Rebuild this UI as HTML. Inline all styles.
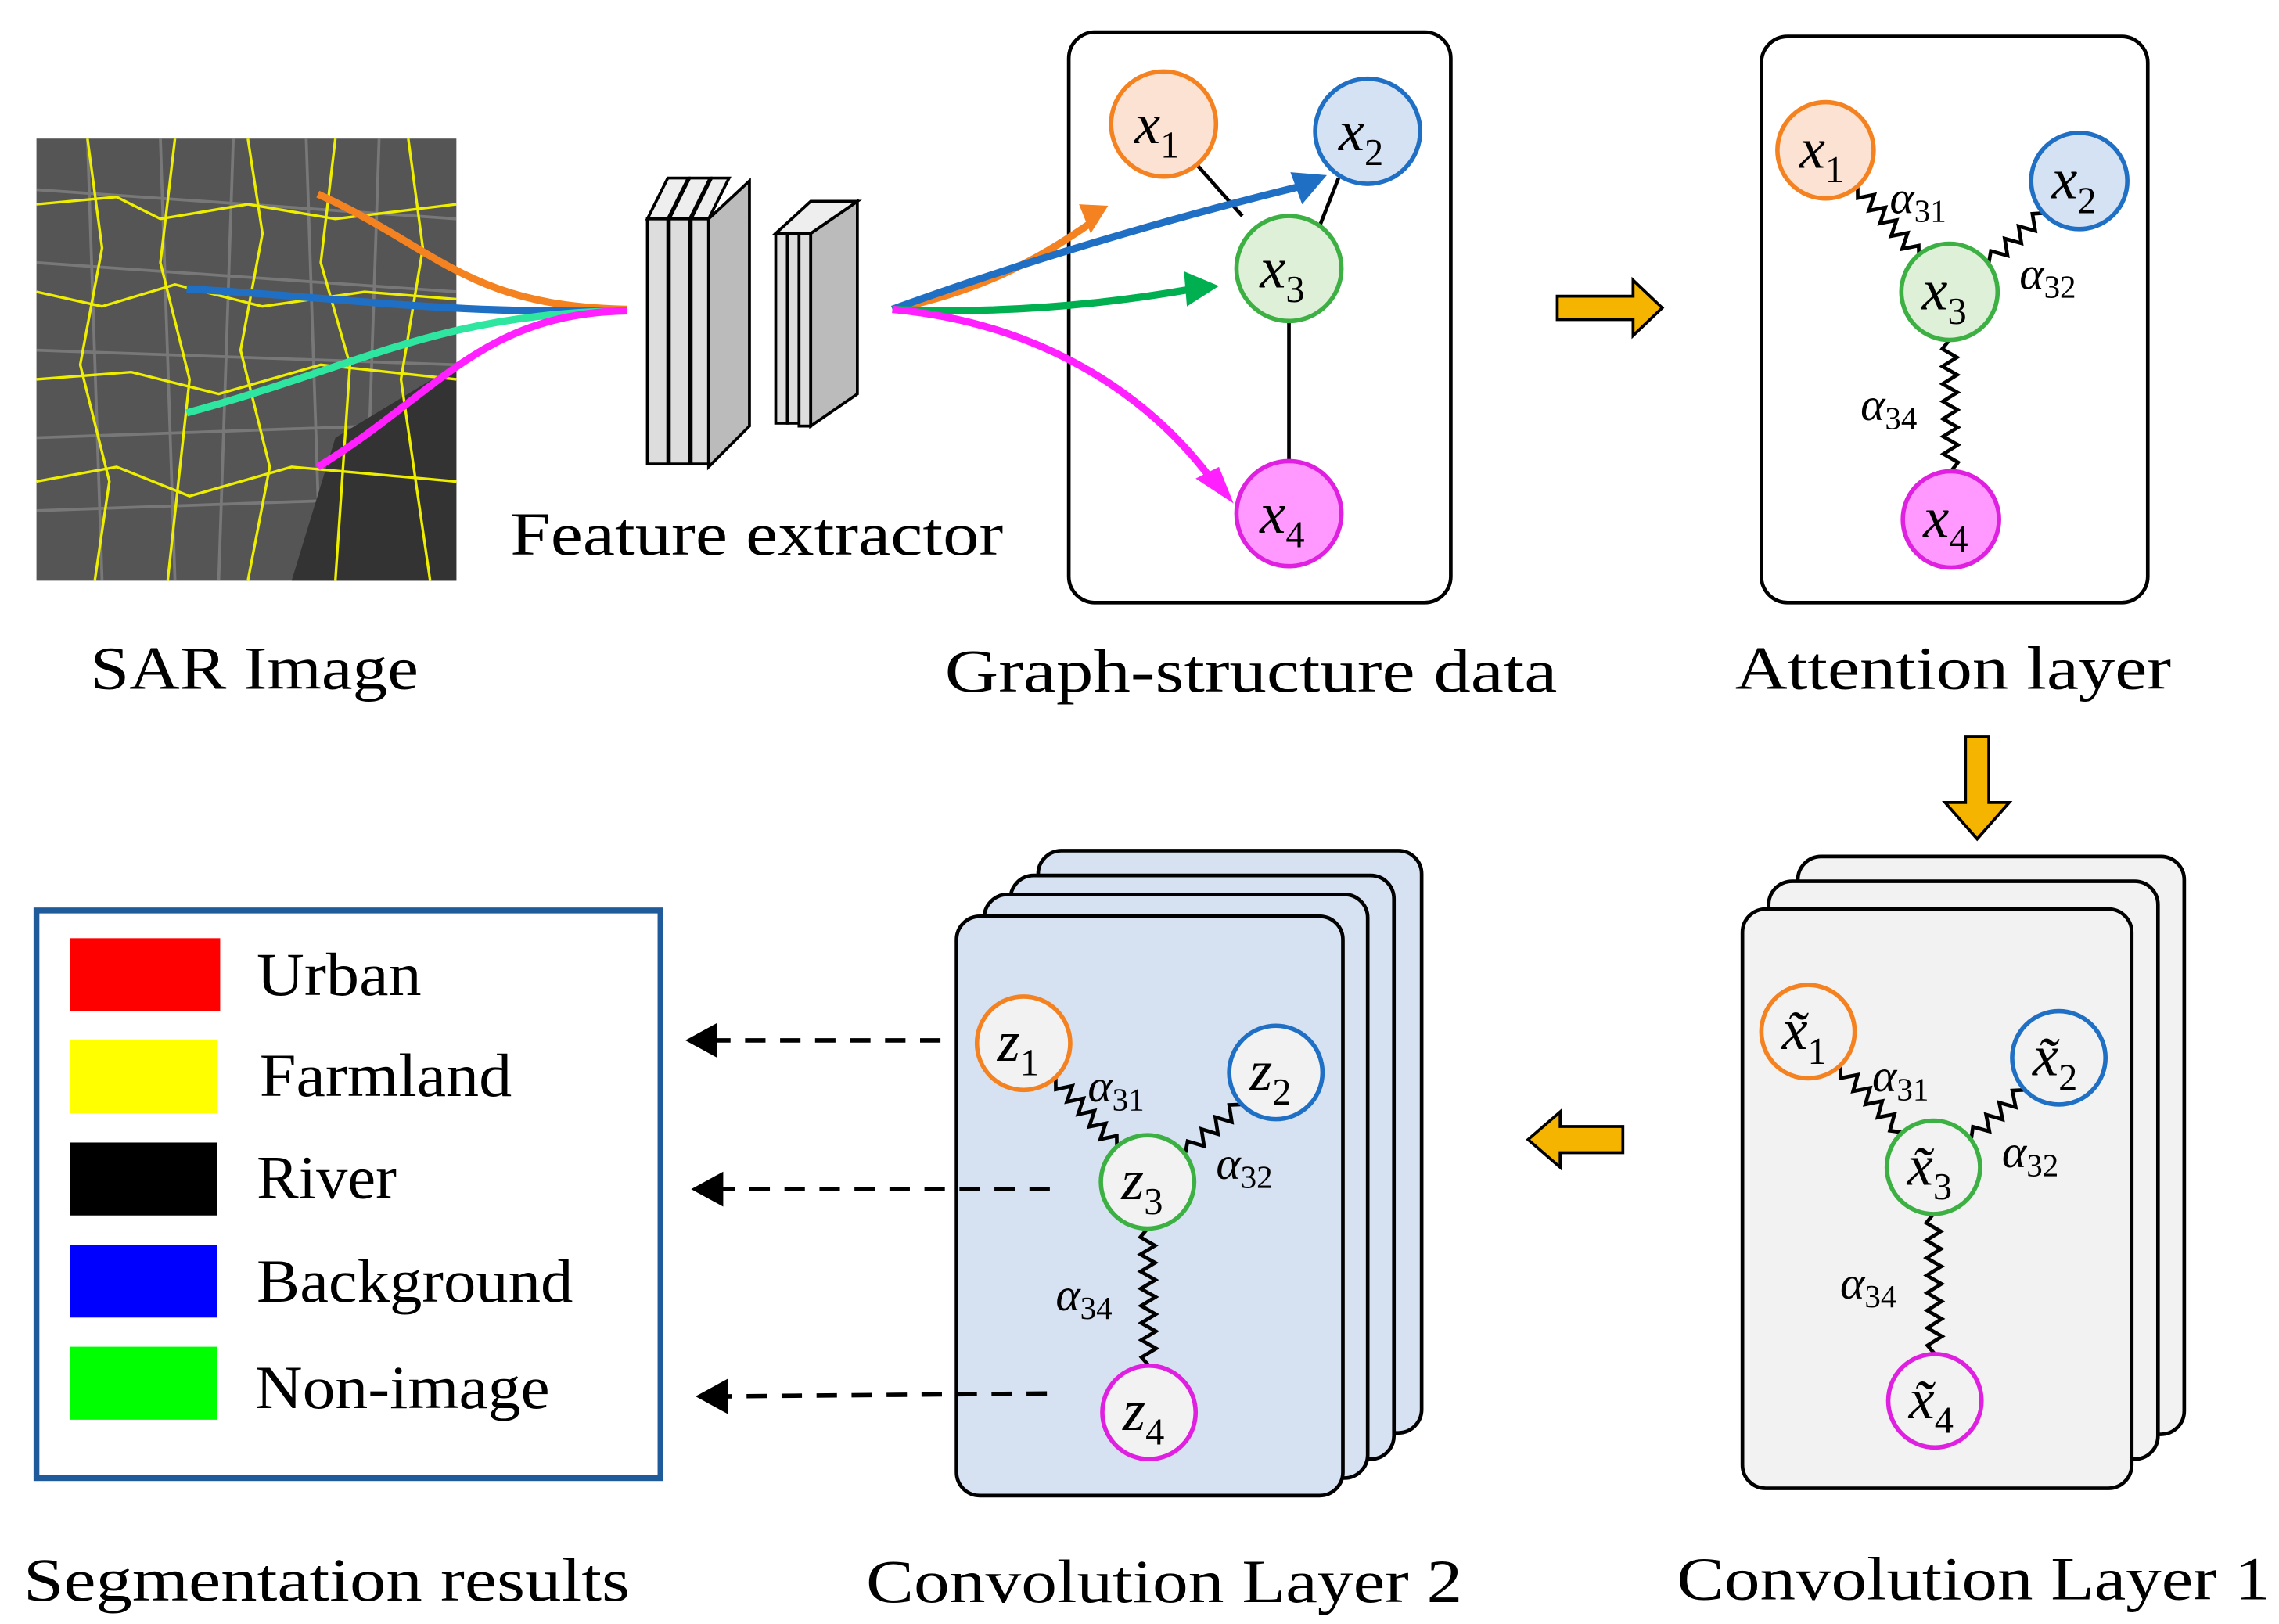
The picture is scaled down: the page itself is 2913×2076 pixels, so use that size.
<!DOCTYPE html>
<html><head><meta charset="utf-8"><style>
html,body{margin:0;padding:0;background:#fff;}
svg{display:block;}
text{font-family:"Liberation Serif",serif;}
.lbl{font-size:42px;fill:#000;}
.var{font-style:italic;font-size:40px;}
.sub{font-size:26px;font-style:normal;}
.al{font-style:italic;font-size:32px;}
.as{font-size:22px;font-style:normal;}
</style></head><body>
<svg id="s" width="2913" height="2076" viewBox="0 0 1563 1113" preserveAspectRatio="none" xmlns="http://www.w3.org/2000/svg">
<!-- SAR image -->
<rect x="25" y="95" width="288" height="303" fill="#555"/>
<g stroke="#888" stroke-width="2" fill="none" opacity="0.7">
<path d="M25,130 L313,150 M25,180 L313,200 M25,240 L313,250 M25,300 L313,290 M25,350 L313,340 M60,95 L70,398 M110,95 L120,398 M160,95 L150,398 M210,95 L220,398 M260,95 L250,398"/>
</g>
<path d="M230,300 L313,250 L313,398 L200,398 Z" fill="#333"/>
<g stroke="#ee0" stroke-width="1.8" fill="none">
<path d="M25,140 L80,135 L110,150 L170,140 L230,150 L313,140"/>
<path d="M25,200 L70,210 L120,195 L180,210 L250,200 L313,205"/>
<path d="M25,260 L90,255 L150,270 L220,250 L313,260"/>
<path d="M25,330 L80,320 L130,340 L200,320 L313,330"/>
<path d="M60,95 L70,170 L55,250 L75,330 L65,398"/>
<path d="M120,95 L110,180 L130,260 L115,398"/>
<path d="M170,95 L180,160 L165,240 L185,320 L170,398"/>
<path d="M230,95 L220,180 L240,250 L230,398"/>
<path d="M280,95 L290,170 L275,260 L295,398"/>
</g>
<g fill="none" stroke-width="5">
<path d="M218,133 C300,170 320,210 430,212" stroke="#f58220"/>
<path d="M128,198 C250,205 300,215 430,213" stroke="#1f6fc5"/>
<path d="M128,283 C250,250 300,215 430,213" stroke="#2ee6a0"/>
<path d="M218,320 C300,270 330,215 430,213" stroke="#ff1fff"/>
</g>
<!-- feature extractor blocks -->
<g stroke="#000" stroke-width="2" fill="#bbb">
<path d="M444,150 L458,122 L472,122 L458,150 Z" fill="#eee"/>
<rect x="444" y="150" width="14" height="168" fill="#ddd"/>
<path d="M459,150 L473,122 L487,122 L473,150 Z" fill="#eee"/>
<rect x="459" y="150" width="14" height="168" fill="#ddd"/>
<path d="M474,150 L488,122 L500,122 L486,150 Z" fill="#eee"/>
<rect x="474" y="150" width="12" height="168" fill="#ddd"/>
<path d="M486,150 L514,124 L514,292 L486,320 Z" fill="#bbb"/>
<rect x="532" y="160" width="8" height="130" fill="#ddd"/>
<rect x="540" y="160" width="8" height="130" fill="#ddd"/>
<rect x="548" y="160" width="8" height="132" fill="#ddd"/>
<path d="M556,160 L588,138 L588,270 L556,292 Z" fill="#bbb"/>
<path d="M532,160 L556,138 L588,138 L556,160 Z" fill="#eee"/>
</g>
<text x="350" y="380" class="lbl" textLength="338" lengthAdjust="spacingAndGlyphs">Feature extractor</text>
<text x="62" y="472" class="lbl" textLength="225" lengthAdjust="spacingAndGlyphs">SAR Image</text>
<!-- Graph structure -->
<rect x="733" y="22" width="262" height="391" rx="18" fill="#fff" stroke="#000" stroke-width="2.5"/>
<g stroke="#000" stroke-width="2.5"><line x1="820" y1="112" x2="852" y2="148"/><line x1="918" y1="122" x2="905" y2="155"/><line x1="884" y1="220" x2="884" y2="316"/></g>
<g fill="none" stroke-width="5">
<path d="M612,212 C670,200 710,180 752,150" stroke="#f58220"/>
<path d="M612,212 C700,180 800,150 895,127" stroke="#1f6fc5"/>
<path d="M612,212 C680,215 750,210 818,198" stroke="#00b050"/>
<path d="M612,212 C700,220 780,260 832,330" stroke="#ff1fff"/>
</g>
<path d="M740,140 L760,141 L748,160 Z" fill="#f58220"/>
<path d="M885,118 L910,120 L893,140 Z" fill="#1f6fc5"/>
<path d="M812,186 L836,196 L814,210 Z" fill="#00b050"/>
<path d="M820,328 L846,345 L836,320 Z" fill="#ff1fff"/>
<g stroke-width="3">
<circle cx="798" cy="85" r="36" fill="#fbe2d2" stroke="#f58220"/>
<circle cx="938" cy="90" r="36" fill="#d4e2f4" stroke="#1f6fc5"/>
<circle cx="884" cy="184" r="36" fill="#dff0d8" stroke="#3cb043"/>
<circle cx="884" cy="352" r="36" fill="#ff99ff" stroke="#e020e0"/>
</g>
<text x="778" y="98" class="var">x<tspan class="sub" dy="10">1</tspan></text>
<text x="918" y="103" class="var">x<tspan class="sub" dy="10">2</tspan></text>
<text x="864" y="197" class="var">x<tspan class="sub" dy="10">3</tspan></text>
<text x="864" y="365" class="var">x<tspan class="sub" dy="10">4</tspan></text>
<text x="648" y="474" class="lbl" textLength="420" lengthAdjust="spacingAndGlyphs">Graph-structure data</text>
<!-- orange arrows -->
<path d="M1068,203 L1120,203 L1120,192 L1140,211 L1120,230 L1120,219 L1068,219 Z" fill="#f5b400" stroke="#000" stroke-width="2"/>
<path d="M1348,505 L1364,505 L1364,550 L1378,550 L1356,575 L1334,550 L1348,550 Z" fill="#f5b400" stroke="#000" stroke-width="2"/>
<path d="M1113,772 L1070,772 L1070,762 L1048,781 L1070,800 L1070,790 L1113,790 Z" fill="#f5b400" stroke="#000" stroke-width="2"/>
<!-- Attention layer -->
<rect x="1208" y="25" width="265" height="388" rx="18" fill="#fff" stroke="#000" stroke-width="2.5"/>
<g id="w1" fill="none" stroke="#000" stroke-width="2.5"></g>
<g stroke-width="3">
<circle cx="1252" cy="103" r="33" fill="#fbe2d2" stroke="#f58220"/>
<circle cx="1426" cy="124" r="33" fill="#d4e2f4" stroke="#1f6fc5"/>
<circle cx="1337" cy="200" r="33" fill="#dff0d8" stroke="#3cb043"/>
<circle cx="1338" cy="356" r="33" fill="#ff99ff" stroke="#e020e0"/>
</g>
<text x="1234" y="115" class="var">x<tspan class="sub" dy="10">1</tspan></text>
<text x="1407" y="136" class="var">x<tspan class="sub" dy="10">2</tspan></text>
<text x="1318" y="212" class="var">x<tspan class="sub" dy="10">3</tspan></text>
<text x="1319" y="368" class="var">x<tspan class="sub" dy="10">4</tspan></text>
<text x="1296" y="146" class="al">α<tspan class="as" dy="6">31</tspan></text>
<text x="1385" y="198" class="al">α<tspan class="as" dy="6">32</tspan></text>
<text x="1276" y="288" class="al">α<tspan class="as" dy="6">34</tspan></text>
<text x="1190" y="472" class="lbl" textLength="299" lengthAdjust="spacingAndGlyphs">Attention layer</text>
<!-- Conv layer 1 -->
<g stroke="#000" stroke-width="2.5" fill="#f2f2f2">
<rect x="1233" y="587" width="265" height="396" rx="16"/>
<rect x="1213" y="604" width="267" height="396" rx="16"/>
<rect x="1195" y="623" width="267" height="397" rx="16"/>
</g>
<g id="w2" fill="none" stroke="#000" stroke-width="2.5"></g>
<g stroke-width="3" fill="#f2f2f2">
<circle cx="1240" cy="707" r="32" stroke="#f58220"/>
<circle cx="1412" cy="725" r="32" stroke="#1f6fc5"/>
<circle cx="1326" cy="800" r="32" stroke="#3cb043"/>
<circle cx="1327" cy="960" r="32" stroke="#e020e0"/>
</g>
<text x="1222" y="719" class="var">x̃<tspan class="sub" dy="10">1</tspan></text>
<text x="1394" y="737" class="var">x̃<tspan class="sub" dy="10">2</tspan></text>
<text x="1308" y="812" class="var">x̃<tspan class="sub" dy="10">3</tspan></text>
<text x="1309" y="972" class="var">x̃<tspan class="sub" dy="10">4</tspan></text>
<text x="1284" y="748" class="al">α<tspan class="as" dy="6">31</tspan></text>
<text x="1373" y="800" class="al">α<tspan class="as" dy="6">32</tspan></text>
<text x="1262" y="890" class="al">α<tspan class="as" dy="6">34</tspan></text>
<text x="1150" y="1096" class="lbl" textLength="407" lengthAdjust="spacingAndGlyphs">Convolution Layer 1</text>
<!-- Conv layer 2 -->
<g stroke="#000" stroke-width="2.5" fill="#d6e2f2">
<rect x="712" y="583" width="263" height="399" rx="16"/>
<rect x="693" y="600" width="263" height="400" rx="16"/>
<rect x="675" y="613" width="263" height="400" rx="16"/>
<rect x="656" y="628" width="265" height="397" rx="16"/>
</g>
<g id="w3" fill="none" stroke="#000" stroke-width="2.5"></g>
<g stroke-width="3" fill="#f2f2f2">
<circle cx="702" cy="715" r="32" stroke="#f58220"/>
<circle cx="875" cy="735" r="32" stroke="#1f6fc5"/>
<circle cx="787" cy="810" r="32" stroke="#3cb043"/>
<circle cx="788" cy="968" r="32" stroke="#e020e0"/>
</g>
<text x="684" y="727" class="var">z<tspan class="sub" dy="10">1</tspan></text>
<text x="857" y="747" class="var">z<tspan class="sub" dy="10">2</tspan></text>
<text x="769" y="822" class="var">z<tspan class="sub" dy="10">3</tspan></text>
<text x="770" y="980" class="var">z<tspan class="sub" dy="10">4</tspan></text>
<text x="746" y="755" class="al">α<tspan class="as" dy="6">31</tspan></text>
<text x="834" y="808" class="al">α<tspan class="as" dy="6">32</tspan></text>
<text x="724" y="898" class="al">α<tspan class="as" dy="6">34</tspan></text>
<text x="594" y="1098" class="lbl" textLength="409" lengthAdjust="spacingAndGlyphs">Convolution Layer 2</text>
<!-- dashed arrows -->
<g stroke="#000" stroke-width="3" stroke-dasharray="14,10">
<line x1="645" y1="713" x2="490" y2="713"/>
<line x1="720" y1="815" x2="492" y2="815"/>
<line x1="718" y1="955" x2="495" y2="957"/>
</g>
<path d="M470,713 L492,701 L492,725 Z M474,815 L496,803 L496,827 Z M477,957 L499,945 L499,969 Z"/>
<!-- legend -->
<rect x="25" y="624" width="428" height="389" fill="#fff" stroke="#1f5a9a" stroke-width="4"/>
<rect x="48" y="643" width="103" height="50" fill="#ff0000"/>
<rect x="48" y="713" width="101" height="50" fill="#ffff00"/>
<rect x="48" y="783" width="101" height="50" fill="#000"/>
<rect x="48" y="853" width="101" height="50" fill="#0000ff"/>
<rect x="48" y="923" width="101" height="50" fill="#00ff00"/>
<text x="176" y="682" class="lbl" textLength="113" lengthAdjust="spacingAndGlyphs">Urban</text>
<text x="178" y="751" class="lbl" textLength="173" lengthAdjust="spacingAndGlyphs">Farmland</text>
<text x="176" y="821" class="lbl" textLength="96" lengthAdjust="spacingAndGlyphs">River</text>
<text x="176" y="892" class="lbl" textLength="217" lengthAdjust="spacingAndGlyphs">Background</text>
<text x="175" y="965" class="lbl" textLength="202" lengthAdjust="spacingAndGlyphs">Non-image</text>
<text x="16" y="1097" class="lbl" textLength="416" lengthAdjust="spacingAndGlyphs">Segmentation results</text>
</svg>
<script>
function zig(g,x1,y1,x2,y2){var dx=x2-x1,dy=y2-y1,L=Math.hypot(dx,dy),ux=dx/L,uy=dy/L,nx=-uy,ny=ux;var n=Math.max(4,Math.round(L/6));var d="M"+x1+","+y1;for(var i=1;i<=n;i++){var t=i/n*L;var a=(i===n)?0:((i%2)?5:-5);d+=" L"+(x1+ux*t+nx*a).toFixed(1)+","+(y1+uy*t+ny*a).toFixed(1);}var p=document.createElementNS("http://www.w3.org/2000/svg","path");p.setAttribute("d",d);document.getElementById(g).appendChild(p);}
zig("w1",1274,128,1316,176);zig("w1",1402,146,1364,180);zig("w1",1337,233,1338,323);
zig("w2",1262,731,1304,776);zig("w2",1388,747,1352,780);zig("w2",1326,832,1327,928);
zig("w3",724,739,766,786);zig("w3",851,757,813,790);zig("w3",787,842,788,936);
</script>
</body></html>
